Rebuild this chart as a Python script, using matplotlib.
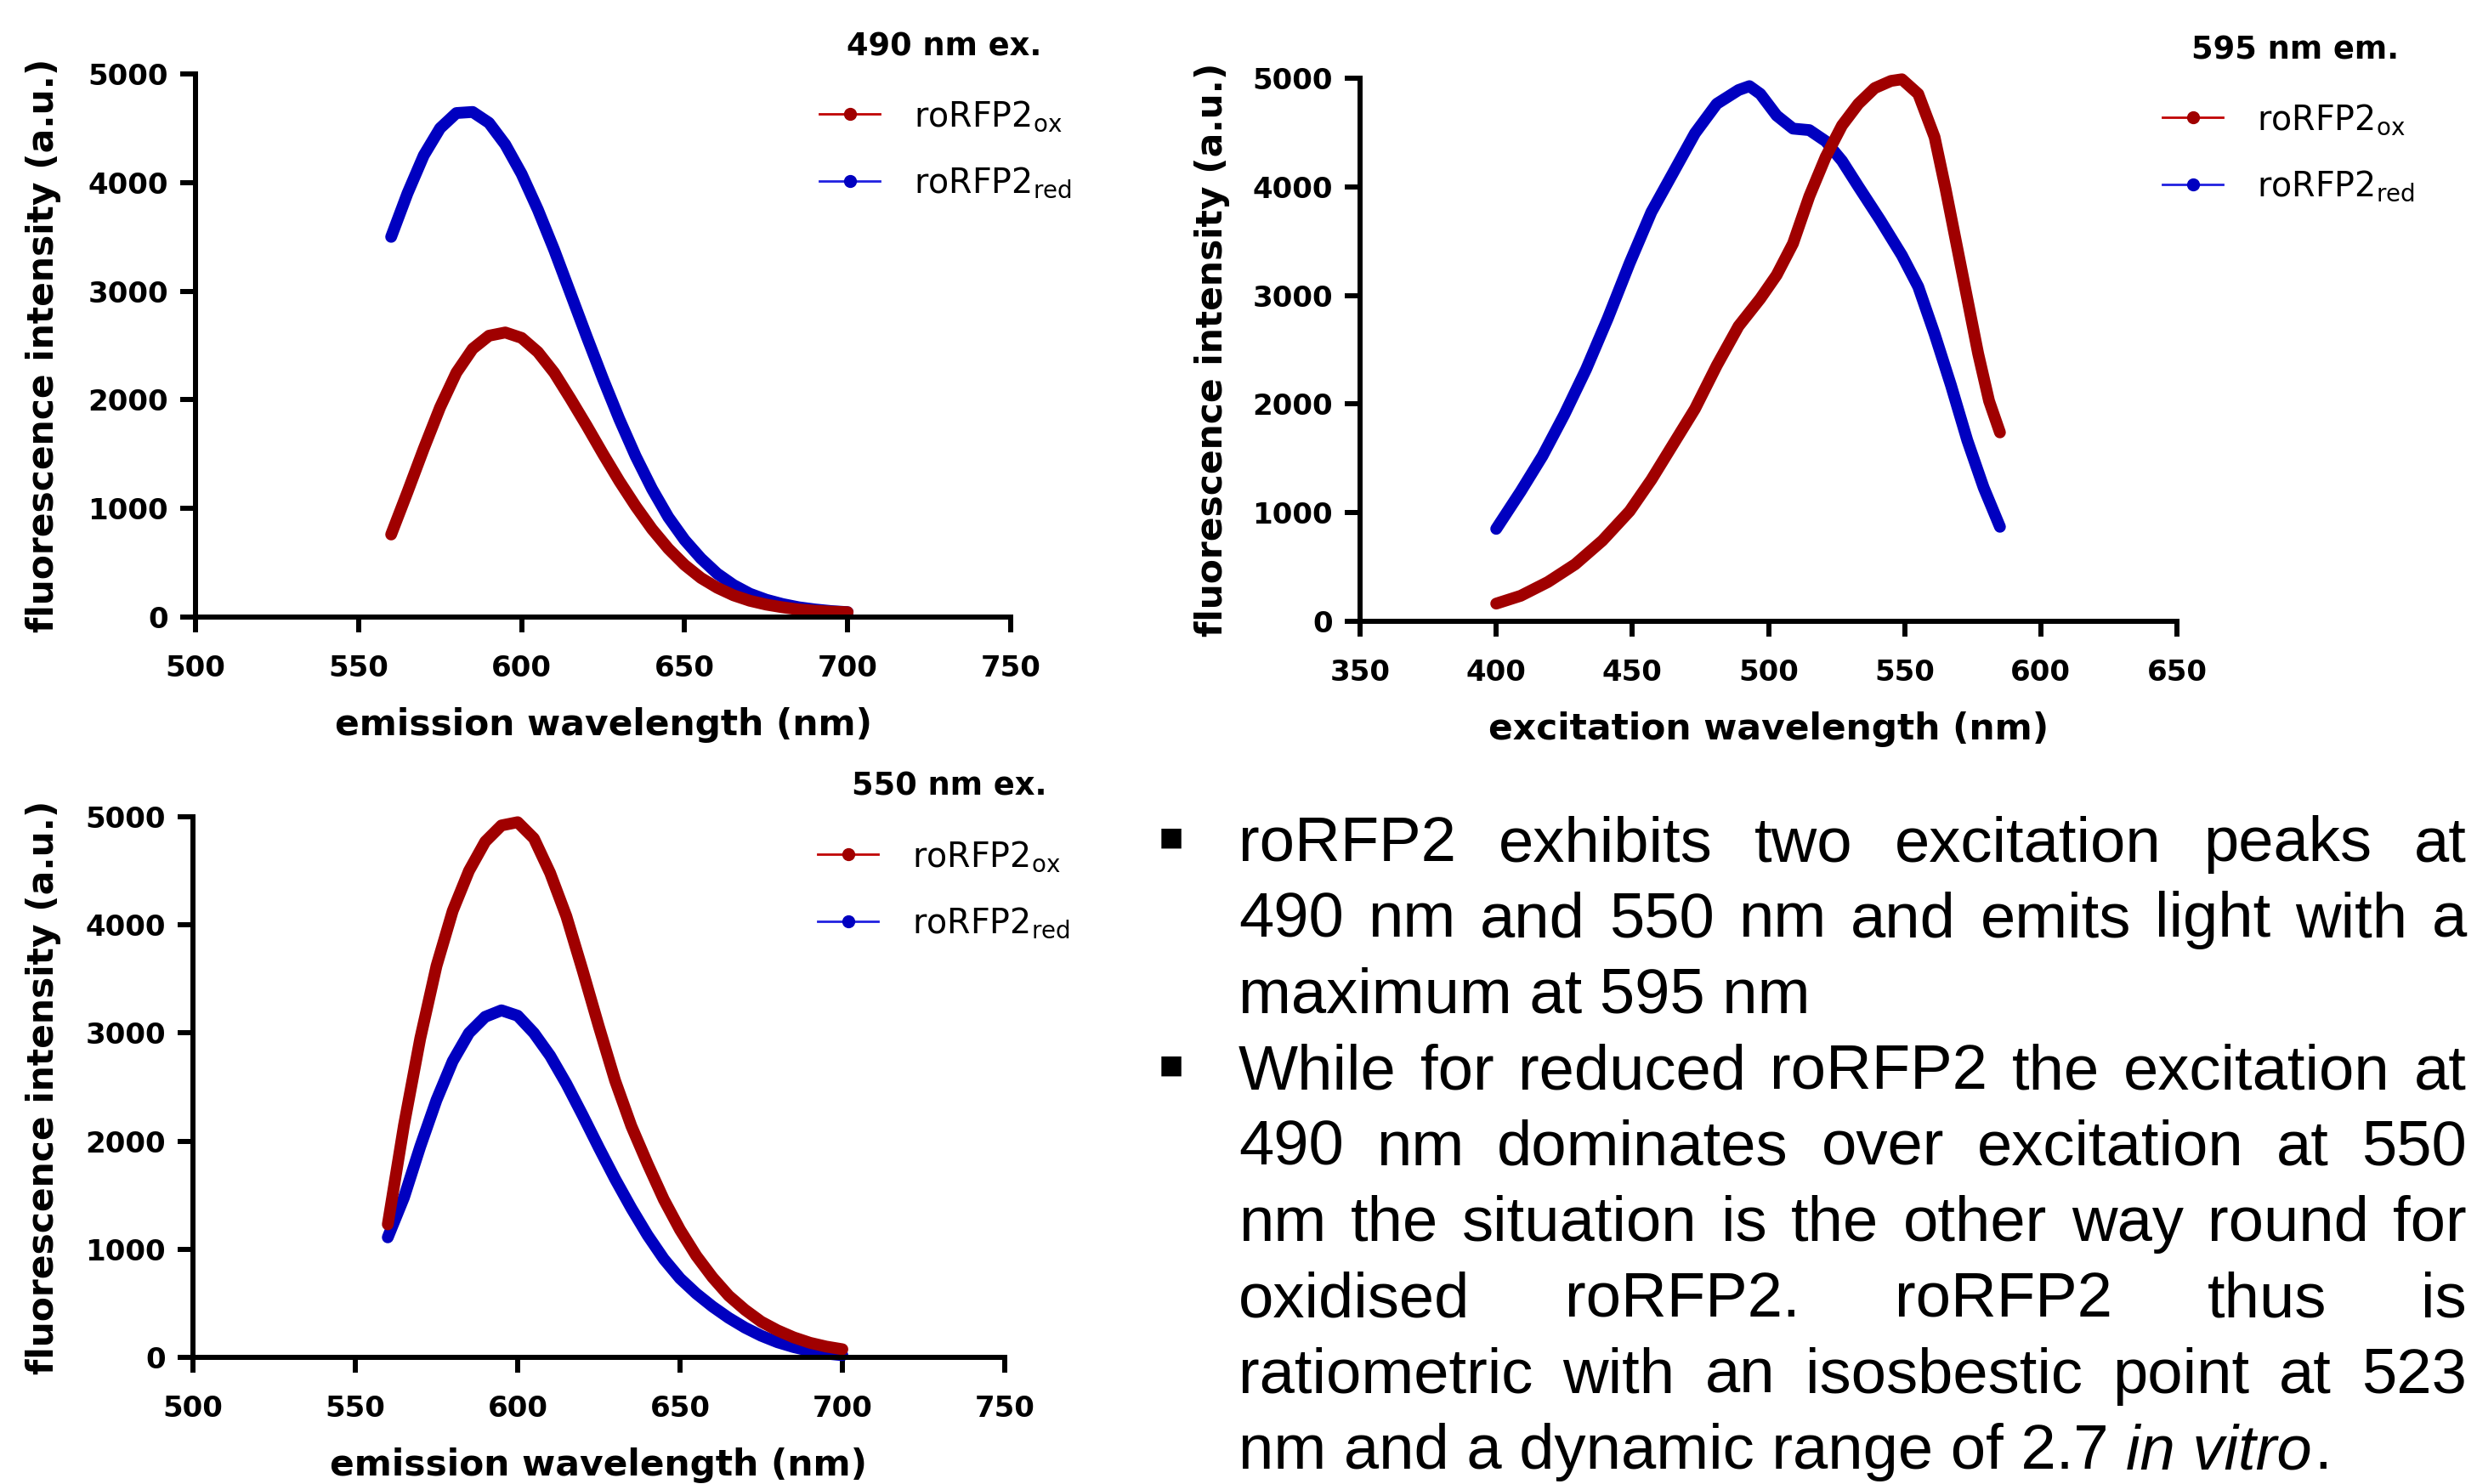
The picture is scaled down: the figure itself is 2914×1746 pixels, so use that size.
import matplotlib
matplotlib.use('Agg')
import matplotlib.pyplot as plt
from matplotlib.lines import Line2D

W, H = 2914, 1746
plt.rcParams['font.family'] = 'DejaVu Sans'
plt.rcParams['font.weight'] = 'bold'
plt.rcParams['mathtext.default'] = 'regular'

# ---- data ----
em_wl = [560, 565, 570, 575, 580, 585, 590, 595, 600, 605, 610, 615, 620, 625, 630,
         635, 640, 645, 650, 655, 660, 665, 670, 675, 680, 685, 690, 695, 700]

# 490 nm excitation, emission scan
ex490_red = [3500, 3900, 4250, 4500, 4640, 4650, 4550, 4350, 4080, 3750, 3380, 2980, 2580, 2190, 1820,
             1480, 1180, 920, 710, 540, 400, 295, 215, 160, 120, 90, 70, 55, 45]
ex490_ox = [760, 1150, 1550, 1930, 2250, 2470, 2590, 2620, 2570, 2440, 2250, 2010, 1760, 1500, 1250,
            1020, 810, 630, 480, 360, 270, 200, 150, 115, 90, 70, 58, 50, 45]

# 550 nm excitation, emission scan
ex550_ox = [1230, 2150, 2950, 3620, 4130, 4500, 4770, 4920, 4950, 4800, 4480, 4080, 3580, 3060, 2560,
            2140, 1790, 1460, 1180, 940, 740, 570, 440, 330, 250, 185, 135, 100, 75]
ex550_red = [1110, 1480, 1950, 2380, 2740, 3000, 3150, 3210, 3160, 3000, 2790, 2530, 2240, 1940, 1650,
             1380, 1130, 910, 730, 590, 470, 365, 275, 200, 140, 95, 60, 35, 20]

# 595 nm emission, excitation scan
exc_wl_red = [400, 409, 417, 425, 433, 441, 449, 457, 465, 473, 481, 489, 493, 497, 503, 509,
              515, 521, 527, 533, 541, 549, 555, 561, 567, 573, 579, 585]
em595_red = [851, 1196, 1522, 1902, 2319, 2790, 3297, 3768, 4130, 4493, 4764, 4891, 4927, 4855, 4656, 4536,
             4522, 4420, 4239, 4003, 3695, 3369, 3080, 2645, 2174, 1667, 1232, 870]
exc_wl_ox = [400, 409, 419, 429, 439, 449, 457, 465, 473, 481, 489, 497, 503, 509, 515, 521,
             527, 533, 539, 545, 549, 555, 561, 565, 569, 573, 577, 581, 585]
em595_ox = [163, 235, 362, 525, 743, 1014, 1304, 1630, 1956, 2355, 2717, 2971, 3188, 3478, 3913, 4275,
            4565, 4764, 4909, 4975, 4990, 4855, 4457, 3985, 3478, 2971, 2464, 2029, 1739]

y_ticks = [0, 1000, 2000, 3000, 4000, 5000]
em_ticks = [500, 550, 600, 650, 700, 750]
exc_ticks = [350, 400, 450, 500, 550, 600, 650]

dark_red = '#a00000'
dark_blue = '#0000c0'

fig = plt.figure(figsize=(W / 100, H / 100), dpi=100)


def px_axes(l, t, r, b):
    return fig.add_axes([l / W, 1 - b / H, (r - l) / W, (b - t) / H])


def style(ax, xlim, xticks, xlabel, ylab_x):
    ax.set_xlim(xlim)
    ax.set_ylim(0, 5000)
    ax.set_xticks(xticks)
    ax.set_yticks(y_ticks)
    for s in ['top', 'right']:
        ax.spines[s].set_visible(False)
    for s in ['left', 'bottom']:
        ax.spines[s].set_linewidth(4.3)
    ax.tick_params(width=4.3, length=13, direction='out', labelsize=24.5)
    ax.tick_params(axis='x', pad=19)
    ax.tick_params(axis='y', pad=10)
    ax.set_xlabel(xlabel, fontsize=30.5, fontweight='bold')
    ax.set_ylabel('fluorescence intensity (a.u.)', fontsize=30.5, fontweight='bold')
    ax.xaxis.set_label_coords(0.5, -0.166)
    ax.yaxis.set_label_coords(ylab_x, 0.5)


def curves(ax, x_red, y_red, x_ox, y_ox):
    ax.plot(x_red, y_red, color=dark_blue, lw=10, solid_capstyle='round',
            solid_joinstyle='round', clip_on=False)
    ax.plot(x_ox, y_ox, color=dark_red, lw=10, solid_capstyle='round',
            solid_joinstyle='round', clip_on=False)


def legend(ax, x, y):
    handles = [Line2D([], [], color='#c00000', lw=2, marker='o', ms=10, mfc=dark_red, mec=dark_red),
               Line2D([], [], color='#2020e0', lw=2, marker='o', ms=10, mfc=dark_blue, mec=dark_blue)]
    labels = ['roRFP2$_{ox}$', 'roRFP2$_{red}$']
    ax.legend(handles, labels, loc='center left', bbox_to_anchor=(x / W, 1 - y / H),
              bbox_transform=fig.transFigure, frameon=False, borderpad=0, borderaxespad=0,
              handlelength=1.8, handletextpad=1.0, labelspacing=0.95,
              prop={'family': 'DejaVu Sans', 'weight': 'normal', 'size': 28.5})


# panel 1: 490 nm ex.
ax1 = px_axes(230, 87, 1189, 726)
curves(ax1, em_wl, ex490_red, em_wl, ex490_ox)
style(ax1, (500, 750), em_ticks, 'emission wavelength (nm)', -0.165)
legend(ax1, 964, 176)
fig.text(1111 / W, 1 - 65 / H, '490 nm ex.', ha='center', va='baseline', fontsize=26.5, fontweight='bold')

# panel 2: 595 nm em.
ax2 = px_axes(1600, 92, 2561, 731)
curves(ax2, exc_wl_red, em595_red, exc_wl_ox, em595_ox)
style(ax2, (350, 650), exc_ticks, 'excitation wavelength (nm)', -0.159)
legend(ax2, 2544, 180)
fig.text(2700 / W, 1 - 70 / H, '595 nm em.', ha='center', va='baseline', fontsize=26.5, fontweight='bold')

# panel 3: 550 nm ex.
ax3 = px_axes(227, 961, 1182, 1597)
curves(ax3, em_wl, ex550_red, em_wl, ex550_ox)
style(ax3, (500, 750), em_ticks, 'emission wavelength (nm)', -0.162)
legend(ax3, 962, 1047)
fig.text(1117 / W, 1 - 935 / H, '550 nm ex.', ha='center', va='baseline', fontsize=26.5, fontweight='bold')

# ---- justified bullet text ----
body_lines = [
    "roRFP2 exhibits two excitation peaks at",
    "490 nm and 550 nm and emits light with a",
    "maximum at 595 nm",
    "While for reduced roRFP2 the excitation at",
    "490 nm dominates over excitation at 550",
    "nm the situation is the other way round for",
    "oxidised roRFP2. roRFP2 thus is",
    "ratiometric with an isosbestic point at 523",
]
justified = [True, True, False, True, True, True, True, True]
last_line = "nm and a dynamic range of 2.7"

txt_left, txt_right = 1457, 2902
base0, pitch = 1013, 89.4
fs = 53.5

fig.canvas.draw()
rend = fig.canvas.get_renderer()


def put(x, y, s, **kw):
    return fig.text(x / W, 1 - y / H, s, ha='left', va='baseline', fontsize=fs,
                    family='Liberation Sans', fontweight='normal', **kw)


def width(t):
    return t.get_window_extent(renderer=rend).width


for i, line in enumerate(body_lines):
    y = base0 + i * pitch
    if not justified[i]:
        put(txt_left, y, line)
        continue
    words = line.split()
    texts = [put(txt_left, y, w) for w in words]
    widths = [width(t) for t in texts]
    gap = (txt_right - txt_left - sum(widths)) / (len(words) - 1)
    x = txt_left
    for t, w in zip(texts, widths):
        t.set_x(x / W)
        x += w + gap

y = base0 + len(body_lines) * pitch
t1 = put(txt_left, y, last_line)
probe_a = put(0, -100, 'n n')
probe_b = put(0, -100, 'nn')
space = width(probe_a) - width(probe_b)
probe_a.remove()
probe_b.remove()
x = txt_left + width(t1) + space
t2 = put(x, y, 'in vitro', style='italic')
put(x + width(t2) + 2, y, '.')

for yb in [base0 - 27, base0 + 3 * pitch - 27]:
    fig.text(1378 / W, 1 - yb / H, '\u25aa', ha='center', va='center', fontsize=34,
             family='DejaVu Sans', fontweight='normal')

fig.savefig('out.png', dpi=100, facecolor='white')
